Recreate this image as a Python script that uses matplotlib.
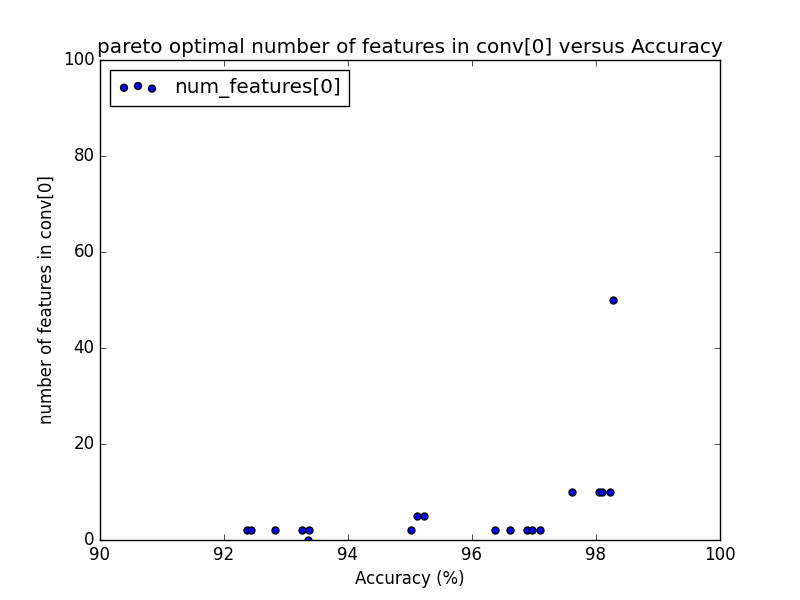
import matplotlib
matplotlib.use("Agg")
import matplotlib.pyplot as plt

accuracy = [92.37, 92.43, 92.83, 93.25, 93.37, 93.35, 95.02, 95.11, 95.22,
            96.37, 96.61, 96.89, 96.96, 97.10, 97.61, 98.05, 98.09, 98.22, 98.27]
num_features = [2, 2, 2, 2, 2, 0, 2, 5, 5,
                2, 2, 2, 2, 2, 10, 10, 10, 10, 50]

plt.style.use('classic')
fig, ax = plt.subplots(figsize=(8, 6), dpi=100)
ax.scatter(accuracy, num_features, c='b', s=25, label='num_features[0]')
ax.set_xlim(90, 100)
ax.set_ylim(0, 100)
ax.ticklabel_format(useOffset=False)
ax.set_xlabel('Accuracy (%)')
ax.set_ylabel('number of features in conv[0]')
ax.set_title('pareto optimal number of features in conv[0] versus Accuracy')
ax.legend(loc='upper left')
fig.savefig('out.png')
